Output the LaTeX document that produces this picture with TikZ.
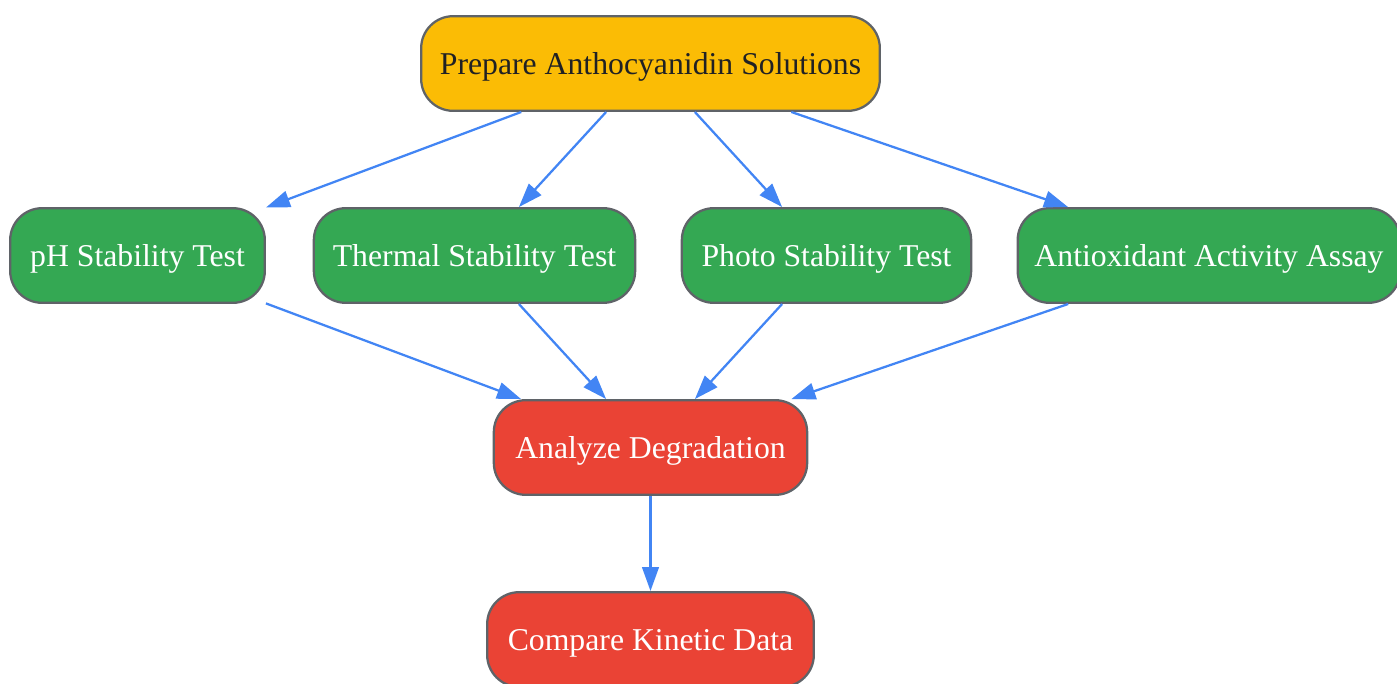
\documentclass[tikz,border=0pt]{standalone}
\usepackage{fontspec}
\setmainfont{Liberation Serif}
\usepackage{tikz}
\usetikzlibrary{arrows.meta,shapes}
\definecolor{gyellow}{HTML}{FBBC05}
\definecolor{ggreen}{HTML}{34A853}
\definecolor{gred}{HTML}{EA4335}
\definecolor{gblue}{HTML}{4285F4}
\definecolor{gborder}{HTML}{5F6368}
\definecolor{gtext}{HTML}{202124}
\tikzset{%
        stage/.style = { draw=gborder, line width=1.7pt, rounded corners=24pt,
                         minimum height=71pt, inner sep=0pt, text height=17pt, text depth=0pt,
                         font=\fontsize{23.8}{28}\selectfont },
      prepare/.style = { stage, fill=gyellow, text=gtext },
         test/.style = { stage, fill=ggreen, text=white },
     analysis/.style = { stage, fill=gred, text=white },
         flow/.style = { draw=gblue, line width=1.7pt, -{Triangle[length=18pt,width=12.5pt]} }
}
\begin{document}
\begin{tikzpicture}[x=0.75pt,y=-0.75pt,line join=round]
\useasboundingbox (0,0) rectangle (1397,683);
% top
\node[prepare, minimum width=344pt] (prep) at (650.5,63.5) {Prepare Anthocyanidin Solutions};
% tests
\node[test, minimum width=191pt] (ph) at (137.5,255.5) {pH Stability Test};
\node[test, minimum width=241pt] (thermal) at (474.5,255.5) {Thermal Stability Test};
\node[test, minimum width=217pt] (photo) at (826.5,255.5) {Photo Stability Test};
\node[test, minimum width=287pt] (antiox) at (1209,255.5) {Antioxidant Activity Assay};
% analysis
\node[analysis, minimum width=235pt] (analyze) at (650.5,447.5) {Analyze Degradation};
\node[analysis, minimum width=245pt] (compare) at (650.5,639.5) {Compare Kinetic Data};
\draw[flow] (prep) -- (ph);
\draw[flow] (prep) -- (thermal);
\draw[flow] (prep) -- (photo);
\draw[flow] (prep) -- (antiox);
\draw[flow] (ph) -- (analyze);
\draw[flow] (thermal) -- (analyze);
\draw[flow] (photo) -- (analyze);
\draw[flow] (antiox) -- (analyze);
\draw[flow] (analyze) -- (compare);
\end{tikzpicture}
\end{document}
